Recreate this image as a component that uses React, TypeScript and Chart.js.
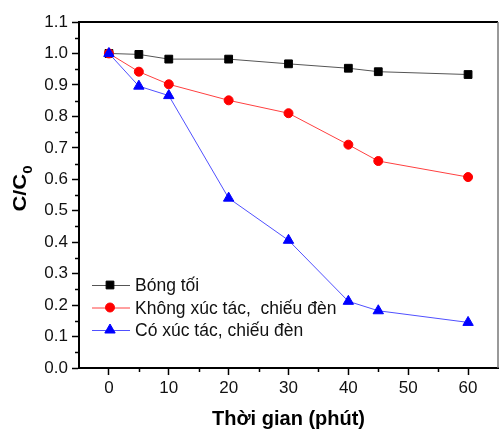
import React, { useEffect, useRef } from 'react';
import { Chart, registerables } from 'chart.js';
import { drawPoint } from 'chart.js/helpers';

Chart.register(...registerables);

const timeMinutes = [0, 5, 10, 20, 30, 40, 45, 60];
const darkValues = [1.0, 0.997, 0.982, 0.982, 0.967, 0.953, 0.942, 0.933];
const noCatalystLightValues = [1.0, 0.942, 0.902, 0.851, 0.81, 0.71, 0.658, 0.607];
const catalystLightValues = [1.0, 0.896, 0.866, 0.54, 0.406, 0.212, 0.182, 0.145];
const seriesLabels = ['Bóng tối', 'Không xúc tác,  chiếu đèn', 'Có xúc tác, chiếu đèn'];
const xTickValues = [0, 10, 20, 30, 40, 50, 60];
const xMinorTickValues = [5, 15, 25, 35, 45, 55];
const yTickValues = [0, 0.1, 0.2, 0.3, 0.4, 0.5, 0.6, 0.7, 0.8, 0.9, 1.0, 1.1];
const yMinorTickValues = [0.05, 0.15, 0.25, 0.35, 0.45, 0.55, 0.65, 0.75, 0.85, 0.95, 1.05];
const xTitle = 'Thời gian (phút)';
const yTitleMain = 'C/C';
const yTitleSub = '0';

const FONT = '"Liberation Sans", Arial, sans-serif';

const styles = [
  { color: '#000000', line: '#555555', point: 'rect', radius: 5.5 },
  { color: '#ff0000', line: '#ff4040', point: 'circle', radius: 4.5 },
  { color: '#0000ff', line: '#5050ff', point: 'triangle', radius: 6 },
];

const decorPlugin = {
  id: 'decor',
  afterDraw(chart: any) {
    const ctx = chart.ctx as CanvasRenderingContext2D;
    const ca = chart.chartArea;
    const xs = chart.scales.x;
    const ys = chart.scales.y;
    ctx.save();
    // minor ticks
    ctx.strokeStyle = '#000';
    ctx.lineWidth = 1.5;
    ctx.beginPath();
    xMinorTickValues.forEach((v) => {
      const px = Math.round(xs.getPixelForValue(v)) + 0.5;
      ctx.moveTo(px, ca.bottom);
      ctx.lineTo(px, ca.bottom + 4);
    });
    yMinorTickValues.forEach((v) => {
      const py = Math.round(ys.getPixelForValue(v)) + 0.5;
      ctx.moveTo(ca.left - 4, py);
      ctx.lineTo(ca.left, py);
    });
    ctx.stroke();
    // top and right frame
    ctx.strokeStyle = '#000';
    ctx.lineWidth = 2;
    ctx.beginPath();
    ctx.moveTo(ca.left, ca.top);
    ctx.lineTo(ca.right, ca.top);
    ctx.stroke();
    ctx.strokeStyle = '#777';
    ctx.lineWidth = 1.5;
    ctx.beginPath();
    ctx.moveTo(ca.right, ca.top);
    ctx.lineTo(ca.right, ca.bottom);
    ctx.stroke();

    // x title
    ctx.fillStyle = '#000';
    ctx.font = `bold 20px ${FONT}`;
    ctx.textAlign = 'center';
    ctx.textBaseline = 'alphabetic';
    ctx.fillText(xTitle, (ca.left + ca.right) / 2, 425);

    // y title with subscript
    ctx.save();
    ctx.translate(20, 188.5);
    ctx.rotate(-Math.PI / 2);
    ctx.scale(1.25, 1);
    ctx.font = `bold 17.5px ${FONT}`;
    const mainW = ctx.measureText(yTitleMain).width;
    ctx.font = `bold 12px ${FONT}`;
    const subW = ctx.measureText(yTitleSub).width;
    const total = mainW + subW;
    ctx.textAlign = 'left';
    ctx.textBaseline = 'alphabetic';
    ctx.font = `bold 17.5px ${FONT}`;
    ctx.fillText(yTitleMain, -total / 2, 6);
    ctx.font = `bold 12px ${FONT}`;
    ctx.fillText(yTitleSub, -total / 2 + mainW, 12);
    ctx.restore();

    // legend
    const rowsY = [285, 307.5, 330];
    const lineX0 = ca.left + 13;
    const lineX1 = ca.left + 51;
    const markX = ca.left + 31;
    seriesLabels.forEach((label, i) => {
      const s = styles[i];
      const y = rowsY[i];
      ctx.strokeStyle = s.line;
      ctx.lineWidth = 1;
      ctx.beginPath();
      ctx.moveTo(lineX0, y + 0.5);
      ctx.lineTo(lineX1, y + 0.5);
      ctx.stroke();
      ctx.fillStyle = s.color;
      ctx.strokeStyle = s.color;
      drawPoint(ctx, { pointStyle: s.point, radius: s.radius, rotation: 0, borderWidth: 1 }, markX, y);
      ctx.fillStyle = '#111';
      ctx.font = `17.5px ${FONT}`;
      ctx.textAlign = 'left';
      ctx.textBaseline = 'alphabetic';
      ctx.fillText(label, ca.left + 56, y + 6);
    });
    ctx.restore();
  },
};

export default function App() {
  const ref = useRef<HTMLCanvasElement | null>(null);
  useEffect(() => {
    if (!ref.current) return;
    const seriesValues = [darkValues, noCatalystLightValues, catalystLightValues];
    const datasets = seriesValues.map((vals, i) => ({
      label: seriesLabels[i],
      data: timeMinutes.map((t, j) => ({ x: t, y: vals[j] })),
      borderColor: styles[i].line,
      backgroundColor: styles[i].color,
      pointBackgroundColor: styles[i].color,
      pointBorderColor: styles[i].color,
      pointStyle: styles[i].point,
      pointRadius: styles[i].radius,
      pointBorderWidth: 1,
      borderWidth: 1,
      showLine: true,
      tension: 0,
      order: 2 - i,
    }));
    const tickFont = { family: FONT, size: 17 };
    const chart = new Chart(ref.current, {
      type: 'line',
      data: { datasets },
      plugins: [decorPlugin],
      options: {
        animation: false,
        responsive: false,
        maintainAspectRatio: false,
        layout: { autoPadding: false, padding: { top: 22, right: 1, left: 0, bottom: 0 } },
        plugins: { legend: { display: false }, tooltip: { enabled: false } },
        scales: {
          x: {
            type: 'linear',
            min: -5,
            max: 65,
            afterBuildTicks: (s: any) => {
              s.ticks = xTickValues.map((v) => ({ value: v }));
            },
            afterFit: (s: any) => {
              s.height = 62;
              s.paddingLeft = 0;
              s.paddingRight = 0;
            },
            grid: { display: true, drawOnChartArea: false, drawTicks: true, tickLength: 7, tickWidth: 1.5, tickColor: '#000' },
            border: { display: true, color: '#000', width: 2 },
            ticks: { color: '#111', font: tickFont, padding: 3, maxRotation: 0, autoSkip: false, callback: (v: any) => String(v) },
          },
          y: {
            type: 'linear',
            min: 0,
            max: 1.1,
            afterBuildTicks: (s: any) => {
              s.ticks = yTickValues.map((v) => ({ value: v }));
            },
            afterFit: (s: any) => {
              s.width = 79;
              s.paddingTop = 0;
              s.paddingBottom = 0;
            },
            grid: { display: true, drawOnChartArea: false, drawTicks: true, tickLength: 7, tickWidth: 1.5, tickColor: '#000' },
            border: { display: true, color: '#000', width: 2 },
            ticks: { color: '#111', font: tickFont, padding: 4, autoSkip: false, callback: (v: any) => Number(v).toFixed(1) },
          },
        },
      },
    } as any);
    return () => chart.destroy();
  }, []);
  return (
    <div style={{ position: 'fixed', left: 0, top: 0, width: 499, height: 430, background: '#fff' }}>
      <canvas ref={ref} width={499} height={430} style={{ width: 499, height: 430, display: 'block' }} />
    </div>
  );
}
